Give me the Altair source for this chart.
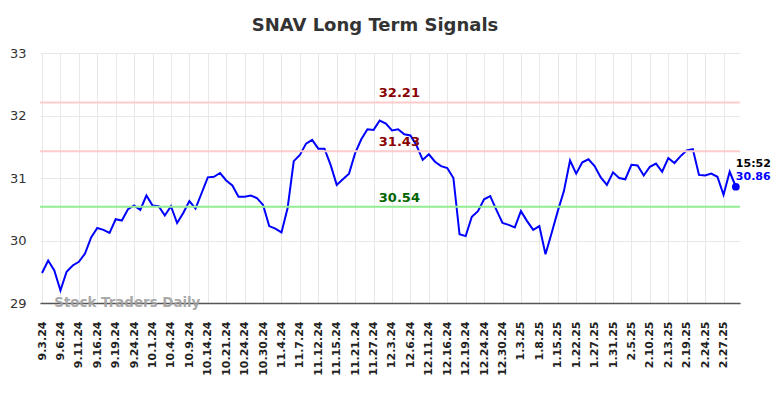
import altair as alt
import pandas as pd

tick_labels = ["9.3.24", "9.6.24", "9.11.24", "9.16.24", "9.19.24", "9.24.24", "10.1.24", "10.4.24",
               "10.9.24", "10.14.24", "10.21.24", "10.24.24", "10.30.24", "11.4.24", "11.7.24",
               "11.12.24", "11.15.24", "11.21.24", "11.27.24", "12.3.24", "12.6.24", "12.11.24",
               "12.16.24", "12.19.24", "12.24.24", "12.30.24", "1.3.25", "1.8.25", "1.15.25",
               "1.22.25", "1.27.25", "1.31.25", "2.5.25", "2.10.25", "2.13.25", "2.19.25",
               "2.24.25", "2.27.25"]

prices = [29.48, 29.68, 29.52, 29.20, 29.50, 29.60, 29.66, 29.79, 30.05, 30.20,
          30.17, 30.12, 30.34, 30.32, 30.50, 30.56, 30.49, 30.72, 30.56, 30.55,
          30.40, 30.55, 30.28, 30.44, 30.63, 30.51, 30.76, 31.01, 31.02, 31.08,
          30.96, 30.88, 30.70, 30.70, 30.72, 30.68, 30.57, 30.23, 30.19, 30.13,
          30.52, 31.27, 31.37, 31.55, 31.61, 31.47, 31.47, 31.21, 30.89, 30.98,
          31.07, 31.40, 31.62, 31.78, 31.77, 31.92, 31.87, 31.76, 31.78, 31.70,
          31.68, 31.52, 31.29, 31.38, 31.26, 31.19, 31.16, 31.00, 30.10, 30.07,
          30.38, 30.47, 30.66, 30.71, 30.49, 30.28, 30.25, 30.21, 30.47, 30.31,
          30.17, 30.23, 29.78, 30.12, 30.47, 30.79, 31.28, 31.07, 31.25, 31.30,
          31.19, 31.01, 30.89, 31.09, 31.00, 30.98, 31.21, 31.20, 31.04, 31.18,
          31.23, 31.10, 31.32, 31.24, 31.35, 31.44, 31.46, 31.05, 31.04, 31.07,
          31.02, 30.73, 31.10, 30.86]

levels = [32.21, 31.43, 30.54]
level_colors = ["#ffcccc", "#ffcccc", "#90ee90"]
level_text_colors = ["#8b0000", "#8b0000", "#006400"]
level_label_pos = 58.2

last_time = "15:52"
last_price = 30.86

n = len(prices)
df = pd.DataFrame({"i": list(range(n)), "price": prices})
tick_idx = [3 * k for k in range(len(tick_labels))]
label_arr = "[" + ",".join("'%s'" % t for t in tick_labels) + "]"

xscale = alt.Scale(domain=[-0.33, 113.68], nice=False, zero=False)
yscale = alt.Scale(domain=[29, 33], nice=False, zero=False)

x_axis = alt.Axis(values=tick_idx, labelExpr=label_arr + "[round(datum.value/3)]",
                  labelAngle=-90, labelFont="DejaVu Sans", labelFontWeight="bold",
                  labelFontSize=11, labelColor="#222", labelPadding=18,
                  ticks=False, grid=True, gridColor="#e8e8e8", domainColor="#555",
                  domainWidth=1.5, title=None, labelOverlap=False, labelFlush=False)
y_axis = alt.Axis(values=[29, 30, 31, 32, 33], format="d", labelFont="DejaVu Sans",
                  labelFontSize=13, labelColor="#333", labelPadding=14,
                  ticks=False, domain=False, grid=True, gridColor="#e8e8e8",
                  title=None, labelFlush=False, labelOverlap=False)

xe = alt.X("i:Q", scale=xscale, axis=x_axis)
ye = alt.Y("price:Q", scale=yscale, axis=y_axis)

line = alt.Chart(df).mark_line(color="#0000ff", strokeWidth=2).encode(x=xe, y=ye)

lv = pd.DataFrame({"price": levels, "color": level_colors, "tcolor": level_text_colors,
                   "i": [level_label_pos] * 3,
                   "txt": ["%.2f" % v for v in levels]})
rules = alt.Chart(lv).mark_rule(strokeWidth=2).encode(
    y=ye, color=alt.Color("color:N", scale=None))
ltext = alt.Chart(lv).mark_text(fontWeight="bold", fontSize=13, font="DejaVu Sans",
                                baseline="bottom", dy=-2).encode(
    x=xe, y=ye, text="txt:N", color=alt.Color("tcolor:N", scale=None))

last = pd.DataFrame({"i": [n - 1], "price": [last_price], "t": [last_time],
                     "p": ["%.2f" % last_price]})
dot = alt.Chart(last).mark_circle(size=60, color="#0000ff", opacity=1).encode(x=xe, y=ye)
t1 = alt.Chart(last).mark_text(fontWeight="bold", fontSize=11, font="DejaVu Sans",
                               align="left", dx=0, dy=-23, color="#000").encode(
    x=xe, y=ye, text="t:N")
t2 = alt.Chart(last).mark_text(fontWeight="bold", fontSize=11, font="DejaVu Sans",
                               align="left", dx=0, dy=-10, color="#0000ff").encode(
    x=xe, y=ye, text="p:N")

wm = pd.DataFrame({"i": [2], "price": [29], "t": ["Stock Traders Daily"]})
water = alt.Chart(wm).mark_text(fontWeight="bold", fontSize=13.4, font="DejaVu Sans",
                                align="left", baseline="middle", color="#a0a0a0", opacity=0.9).encode(
    x=xe, y=ye, text="t:N")

chart = alt.layer(line, rules, ltext, dot, t1, t2, water).properties(
    width=700, height=250,
    autosize=alt.AutoSizeParams(type="none"),
    padding={"left": 32, "top": 45, "right": 36, "bottom": 87},
    title=alt.Title("SNAV Long Term Signals", font="DejaVu Sans", fontSize=18,
                    fontWeight="bold", color="#333", anchor="middle", dx=-15, offset=12),
).configure_view(stroke=None)

chart.save("out.html", embed_options={"renderer": "svg", "actions": False})
